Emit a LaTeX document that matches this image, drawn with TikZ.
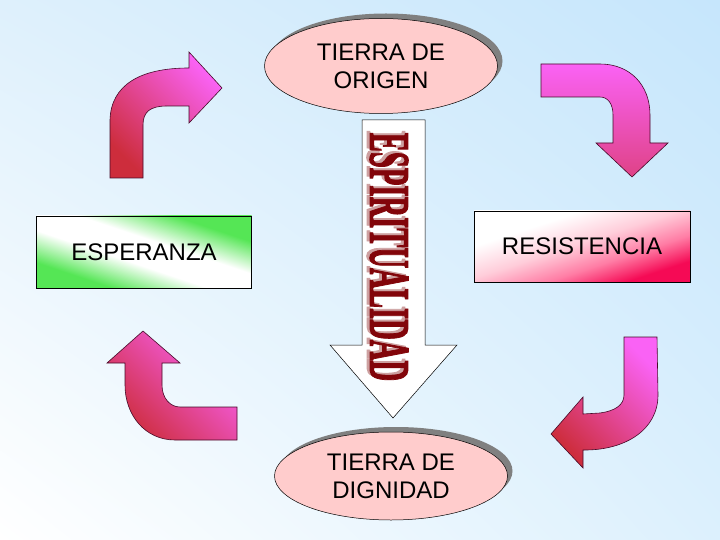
\documentclass[tikz,border=0pt]{standalone}
\usepackage{fontspec}
\setmainfont{Liberation Sans}
\newfontfamily\artfont{Liberation Serif}[BoldFeatures={FakeBold=2.5}]
\usetikzlibrary{shapes.geometric,shadows,shadings}
\definecolor{fondoul}{RGB}{222,240,252}
\definecolor{fondour}{RGB}{198,230,252}
\definecolor{fondolr}{RGB}{220,240,253}
\definecolor{tierrapink}{RGB}{255,204,204}
\definecolor{espgreen}{RGB}{85,230,85}
\definecolor{resred}{RGB}{245,10,85}
\definecolor{respink}{RGB}{255,125,165}
\definecolor{reslight}{RGB}{255,205,218}
\definecolor{flechared}{RGB}{205,45,60}
\definecolor{flechamag}{RGB}{250,98,245}
\definecolor{flechaline}{RGB}{70,10,40}
\definecolor{espred}{RGB}{130,5,10}
\definecolor{espshadow}{RGB}{205,160,160}
\pgfdeclareverticalshading{esperanzashade}{100bp}{color(0bp)=(espgreen); color(27bp)=(espgreen);
  color(43bp)=(white); color(57bp)=(white); color(73bp)=(espgreen); color(100bp)=(espgreen)}
\pgfdeclareverticalshading{resistenciashade}{100bp}{color(0bp)=(resred); color(25bp)=(resred);
  color(38bp)=(respink); color(52bp)=(reslight); color(68bp)=(white); color(100bp)=(white)}
\tikzset{
  tierra/.style={ellipse, draw=black, line width=0.5pt, fill=tierrapink, inner sep=0pt,
    minimum width=233pt, align=center, font=\fontsize{24}{28}\selectfont,
    drop shadow={shadow xshift=5pt, shadow yshift=5pt, fill=gray, opacity=1}},
  caja/.style={rectangle, draw=black, line width=0.5pt, inner sep=0pt,
    font=\fontsize{24}{28}\selectfont},
  flecha/.style={draw=flechaline, line width=0.6pt, top color=flechamag,
    bottom color=flechared, shading angle=-45},
  espletras/.style={rotate=-90, inner sep=0pt,
    font=\artfont\bfseries\fontsize{57}{57}\selectfont}
}
\begin{document}
\begin{tikzpicture}[x=1pt,y=-1pt]
	\useasboundingbox (0,0) rectangle (720,540);
	\shade[upper left=fondoul, upper right=fondour, lower left=white, lower right=fondolr] (0,0) rectangle (720,540);
	\node[tierra, minimum height=95pt] (origen) at (381,66) {TIERRA DE\\ORIGEN};
	\node[tierra, minimum height=88pt] (dignidad) at (391,476) {TIERRA DE\\DIGNIDAD};
	\shade[shading=esperanzashade, shading angle=-45,
	  transform canvas={shift={(144,252)}, xscale=4.3, yscale=1.44}] (-25pt,-25pt) rectangle (25pt,25pt);
	\shade[shading=resistenciashade, shading angle=45,
	  transform canvas={shift={(582,246.5)}, xscale=4.32, yscale=1.42}] (-25pt,-25pt) rectangle (25pt,25pt);
	\node[caja, minimum width=215pt, minimum height=72pt] (esperanza) at (144,252) {ESPERANZA};
	\node[caja, minimum width=216pt, minimum height=71pt] (resistencia) at (582,246.5) {RESISTENCIA};
	\draw[line width=0.5pt, fill=white] (362,120) -- (425,120) -- (425,345) -- (457,345) -- (393,418)
	  -- (330,345) -- (362,345) -- cycle;
	\node[espletras, text=espshadow] (espsombra) at (386,255) {\scalebox{0.503}[1]{ESPIRITUALIDAD}};
	\node[espletras, text=espred] (espiritualidad) at (389,257) {\scalebox{0.503}[1]{ESPIRITUALIDAD}};
	\draw[flecha] (110,178) -- (110,120) .. controls (111,85) and (140,68) .. (189,68) -- (189,52)
	  -- (222,88) -- (189,123) -- (189,106) -- (167,106) .. controls (150,106) and (143,112) .. (143,125)
	  -- (143,178) -- cycle;
	\draw[flecha, bottom color=flechared!60!flechamag] (541,64) -- (600,64) .. controls (630,64) and (650,85) .. (650,115) -- (650,143)
	  -- (668,143) -- (632,177) -- (596,143) -- (613,143) -- (613,115) .. controls (613,104) and (608,97) .. (600,97)
	  -- (541,97) -- cycle;
	\draw[flecha] (237,440) -- (175,440) .. controls (145,440) and (125,415) .. (125,385) -- (125,363)
	  -- (107,363) -- (143,331) -- (180,363) -- (162,363) -- (162,385) .. controls (162,398) and (170,407) .. (180,407)
	  -- (237,407) -- cycle;
	\draw[flecha] (624,337) -- (657,337) -- (658,395) .. controls (658,430) and (625,450) .. (585,450)
	  -- (583,450) -- (583,468) -- (551,434) -- (583,397) -- (583,414) -- (600,413)
	  .. controls (615,411) and (624,405) .. (624,395) -- cycle;
\end{tikzpicture}
\end{document}
